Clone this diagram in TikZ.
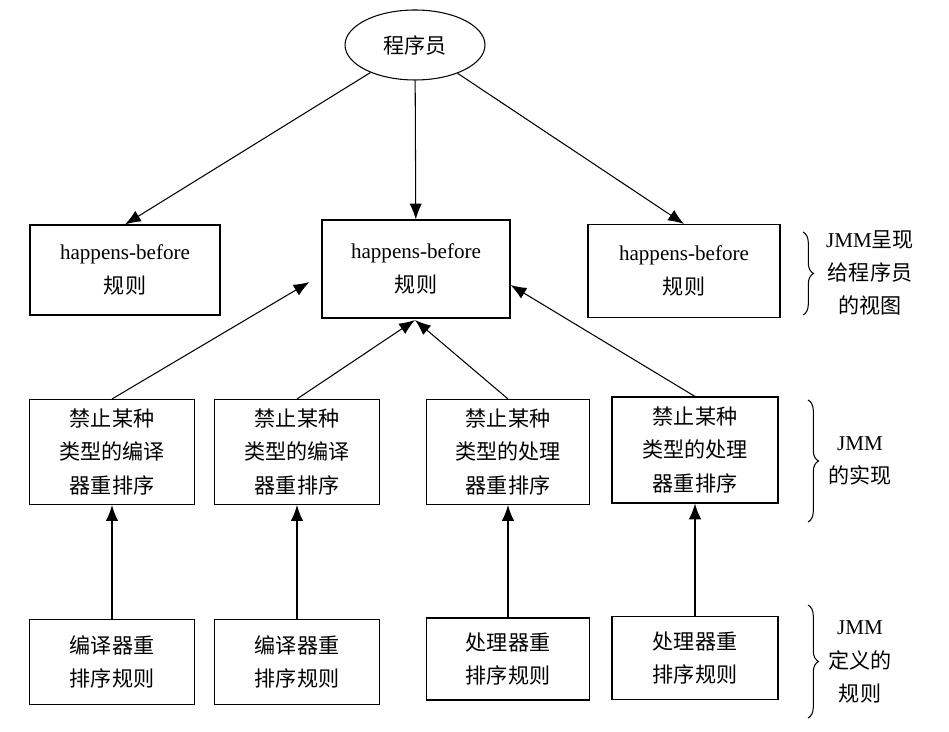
\documentclass[tikz,border=0pt]{standalone}
\usepackage{fontspec}
\setmainfont{Liberation Serif}
\newfontfamily\cjk{Noto Sans CJK SC}
\usetikzlibrary{shapes.geometric,decorations.pathreplacing,arrows.meta}
\newcommand{\zh}[1]{{\cjk #1}}
\tikzset{
  box/.style={draw, line width=0.6pt, align=center, font=\fontsize{12}{19}\selectfont, inner sep=0pt},
  link/.style={line width=0.6pt, -{Latex[length=9pt,width=7pt]}},
  brc/.style={decorate, decoration={brace, amplitude=6pt}, line width=0.6pt},
  side/.style={align=center, font=\fontsize{12}{19}\selectfont}
}
\begin{document}
\begin{tikzpicture}[x=0.02cm, y=-0.02cm]
	\useasboundingbox (0,0) rectangle (949,732);
	\node[box, ellipse, minimum width=140*0.02cm, minimum height=70*0.02cm] (prog) at (415,45) {\zh{程序员}};
	%Sicht fuer Programmierer
	\node[box, minimum width=190*0.02cm, minimum height=90*0.02cm] (hbl) at (125,270) {happens-before\\\zh{规则}};
	\node[box, minimum width=188*0.02cm, minimum height=98*0.02cm] (hbm) at (416,269) {happens-before\\\zh{规则}};
	\node[box, minimum width=192*0.02cm, minimum height=93*0.02cm] (hbr) at (684,271) {happens-before\\\zh{规则}};
	%Implementierung
	\node[box, minimum width=165*0.02cm, minimum height=105*0.02cm] (imp1) at (112,452) {\zh{禁止某种}\\\zh{类型的编译}\\\zh{器重排序}};
	\node[box, minimum width=165*0.02cm, minimum height=105*0.02cm] (imp2) at (297,452) {\zh{禁止某种}\\\zh{类型的编译}\\\zh{器重排序}};
	\node[box, minimum width=163*0.02cm, minimum height=105*0.02cm] (imp3) at (508,452) {\zh{禁止某种}\\\zh{类型的处理}\\\zh{器重排序}};
	\node[box, minimum width=166*0.02cm, minimum height=106*0.02cm] (imp4) at (695,450) {\zh{禁止某种}\\\zh{类型的处理}\\\zh{器重排序}};
	%Regeln
	\node[box, minimum width=165*0.02cm, minimum height=85*0.02cm] (reg1) at (112,662) {\zh{编译器重}\\\zh{排序规则}};
	\node[box, minimum width=165*0.02cm, minimum height=85*0.02cm] (reg2) at (297,662) {\zh{编译器重}\\\zh{排序规则}};
	\node[box, minimum width=163*0.02cm, minimum height=82*0.02cm] (reg3) at (508,659) {\zh{处理器重}\\\zh{排序规则}};
	\node[box, minimum width=166*0.02cm, minimum height=83*0.02cm] (reg4) at (695,658) {\zh{处理器重}\\\zh{排序规则}};
	\coordinate (tip) at (415,320);
	\draw[link] (prog) -- (hbl.north);
	\draw[link] (prog) -- (hbm);
	\draw[link] (prog) -- (hbr.north);
	\draw[link] (imp1.north) -- ([xshift=-12*0.02cm]hbm.south west|-0,282);
	\draw[link] (imp2.north) -- (tip);
	\draw[link] (imp3.north) -- (tip);
	\draw[link] (imp4.north) -- (hbm.south east|-0,285);
	\draw[link] (reg1) -- (imp1);
	\draw[link] (reg2) -- (imp2);
	\draw[link] (reg3) -- (imp3);
	\draw[link] (reg4) -- (imp4);
	%Klammern
	\draw[brc] (803,232) -- (803,315);
	\draw[brc] (808,400) -- (808,522);
	\draw[brc] (808,605) -- (808,718);
	\node[side] (v1) at (870,273) {JMM\zh{呈现}\\\zh{给程序员}\\\zh{的视图}};
	\node[side] (v2) at (860,461) {JMM\\\zh{的实现}};
	\node[side] (v3) at (860,662) {JMM\\\zh{定义的}\\\zh{规则}};
\end{tikzpicture}
\end{document}
